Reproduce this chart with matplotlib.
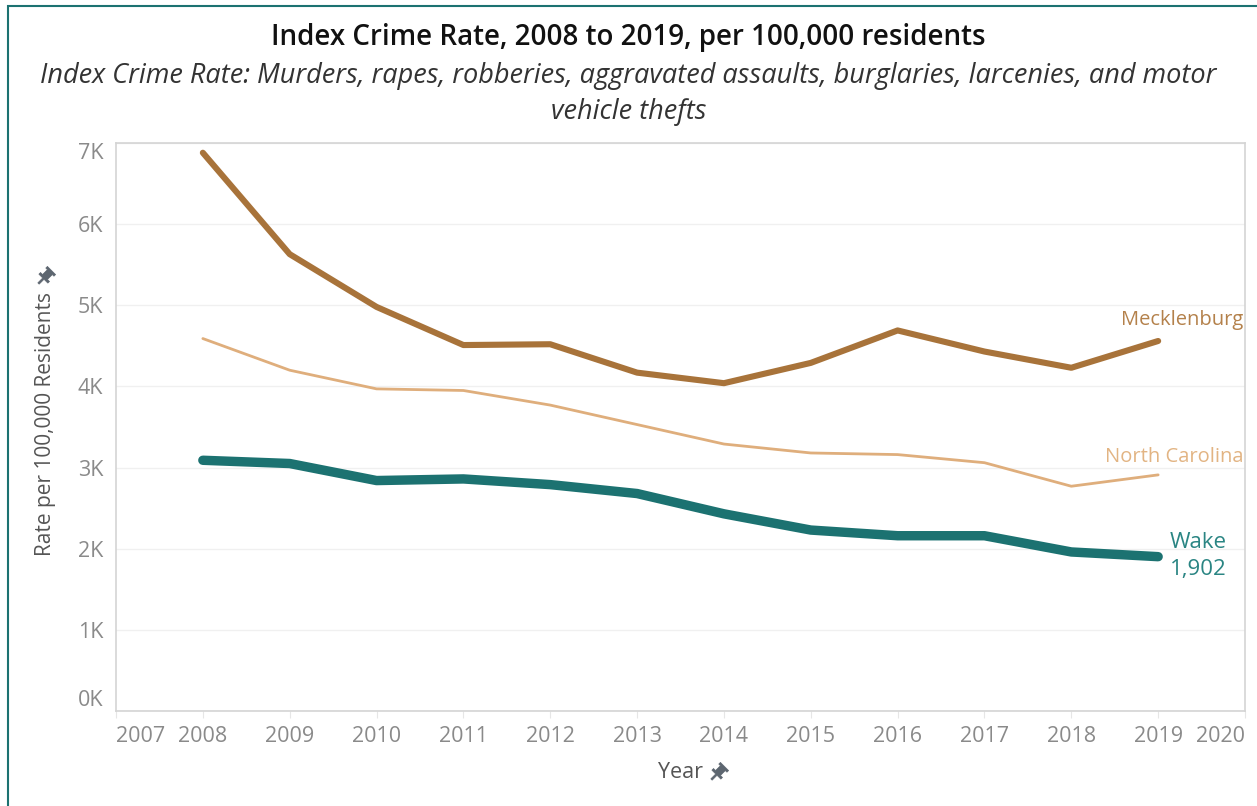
import numpy as np
import matplotlib.pyplot as plt
from matplotlib.patches import Rectangle, Polygon

plt.rcParams['font.family'] = ['Open Sans', 'DejaVu Sans']

years = [2008, 2009, 2010, 2011, 2012, 2013, 2014, 2015, 2016, 2017, 2018, 2019]
mecklenburg = [6880, 5630, 4980, 4510, 4520, 4170, 4040, 4290, 4690, 4430, 4230, 4560]
north_carolina = [4590, 4200, 3970, 3950, 3770, 3530, 3290, 3180, 3160, 3060, 2770, 2910]
wake = [3090, 3050, 2840, 2860, 2790, 2680, 2430, 2230, 2160, 2160, 1960, 1902]

x_ticks = list(range(2007, 2021))
y_ticks = list(range(0, 7001, 1000))
y_labels = ["%dK" % (v // 1000) for v in y_ticks]

c_meck = "#a8733a"
c_nc = "#dfae7c"
c_wake = "#1c7271"
c_tick = "#8a8a8a"

W, H = 1257, 806
fig = plt.figure(figsize=(W / 100, H / 100), dpi=100)
ax = fig.add_axes([116 / W, 1 - 711 / H, (1245 - 116) / W, (711 - 143) / H])

# outer border of the dashboard sheet
fig.patches.append(Rectangle((8 / W, -0.1), 1.2, 1 - 6 / H + 0.1,
                             transform=fig.transFigure, fill=False,
                             edgecolor="#1c7271", linewidth=1.5))

# pushpin outline, needle pointing down, pixel units (y down)
PIN = np.array([(-5, -8), (5, -8), (5, -6), (3, -6), (3, 0), (5.5, 0), (5.5, 2),
                (0.8, 2), (0.8, 8), (-0.8, 8), (-0.8, 2), (-5.5, 2), (-5.5, 0),
                (-3, 0), (-3, -6), (-5, -6)]) * 1.15


def pin(px, py):
    a = np.radians(45)
    rx = PIN[:, 0] * np.cos(a) - PIN[:, 1] * np.sin(a)
    ry = PIN[:, 0] * np.sin(a) + PIN[:, 1] * np.cos(a)
    xy = np.column_stack([(px + rx) / W, 1 - (py + ry) / H])
    fig.patches.append(Polygon(xy, closed=True, transform=fig.transFigure,
                               facecolor="#5d6670", edgecolor="#5d6670",
                               linewidth=0.5, joinstyle="round"))


ax.plot(years, north_carolina, color=c_nc, linewidth=2.0, solid_capstyle="round",
        solid_joinstyle="round", zorder=3)
ax.plot(years, mecklenburg, color=c_meck, linewidth=4.4, solid_capstyle="round",
        solid_joinstyle="round", zorder=4)
ax.plot(years, wake, color=c_wake, linewidth=6.8, solid_capstyle="round",
        solid_joinstyle="round", zorder=5)

ax.text(2019.98, 4820, "Mecklenburg", color="#b4814b", fontsize=14.5, ha="right", va="center")
ax.text(2019.98, 3130, "North Carolina", color="#e2b483", fontsize=14.5, ha="right", va="center")
ax.text(2019.13, 2080, "Wake", color="#2a8583", fontsize=16, ha="left", va="center")
ax.text(2019.13, 1750, "{:,}".format(wake[-1]), color="#2a8583", fontsize=16, ha="left", va="center")

ax.set_xlim(2007, 2020)
ax.set_ylim(0, 7000)
ax.set_xticks(x_ticks)
ax.set_yticks(y_ticks)
xl = ax.set_xticklabels([str(y) for y in x_ticks], color=c_tick, fontsize=15.5)
yl = ax.set_yticklabels(y_labels, color=c_tick, fontsize=15.5)
xl[0].set_ha("left")
xl[-1].set_ha("right")
yl[0].set_va("bottom")
yl[-1].set_va("top")

ax.tick_params(axis="x", length=5, color="#e6e6e6", pad=6)
ax.tick_params(axis="y", length=0, pad=9)
ax.grid(axis="y", color="#f0f0f0", linewidth=1)
ax.set_axisbelow(True)
for s in ax.spines.values():
    s.set_color("#d4d4d4")
    s.set_linewidth(1.2)

ax.set_ylabel("Rate per 100,000 Residents", color="#555555", fontsize=15)
ax.yaxis.label.set_va("center")
ax.yaxis.set_label_coords(-(116 - 46) / (1245 - 116), (711 - 424) / (711 - 143))
ax.set_xlabel("Year", color="#555555", fontsize=15.5)
ax.xaxis.label.set_va("center")
ax.xaxis.set_label_coords((680 - 116) / (1245 - 116), -(773 - 711) / (711 - 143))
pin(45, 277)
pin(718, 773)

fig.text(0.5, 1 - 38 / H, "Index Crime Rate, 2008 to 2019, per 100,000 residents",
         ha="center", va="center", fontsize=20, fontweight="semibold", color="#111111")
fig.text(0.5, 1 - 76 / H,
         "Index Crime Rate: Murders, rapes, robberies, aggravated assaults, burglaries, larcenies, and motor",
         ha="center", va="center", fontsize=19.5, style="italic", color="#333333")
fig.text(0.5, 1 - 112 / H, "vehicle thefts",
         ha="center", va="center", fontsize=19.5, style="italic", color="#333333")

fig.savefig("out.png", dpi=100)
